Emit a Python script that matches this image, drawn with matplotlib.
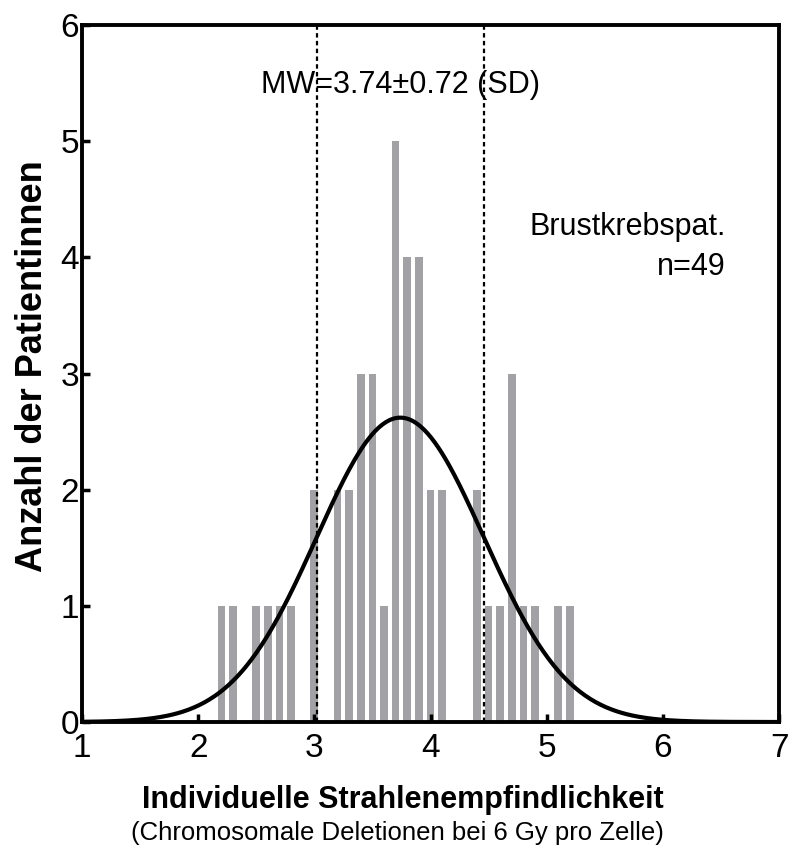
import numpy as np
import matplotlib
matplotlib.use('Agg')
import matplotlib.pyplot as plt

plt.rcParams['font.family'] = ['Liberation Sans', 'DejaVu Sans']

# Histogram data
deletions = [2.2, 2.3, 2.5, 2.6, 2.7, 2.8, 3.0, 3.2, 3.3, 3.4, 3.5, 3.6, 3.7, 3.8,
             3.9, 4.0, 4.1, 4.4, 4.5, 4.6, 4.7, 4.8, 4.9, 5.1, 5.2]
patients = [1, 1, 1, 1, 1, 1, 2, 2, 2, 3, 3, 1, 5, 4,
            4, 2, 2, 2, 1, 1, 3, 1, 1, 1, 1]

mean_val = 3.74
sd_val = 0.72
curve_peak = 2.62
x_ticks = [1, 2, 3, 4, 5, 6, 7]
y_ticks = [0, 1, 2, 3, 4, 5, 6]

fig = plt.figure(figsize=(7.88, 8.52), dpi=100)
ax = fig.add_axes([82 / 788, 1 - 722 / 852, 697 / 788, 697 / 852])

ax.bar(deletions, patients, width=0.066, color='#a2a2a6', zorder=1)

# fitted normal curve
xs = np.linspace(1, 7, 400)
ys = curve_peak * np.exp(-0.5 * ((xs - mean_val) / sd_val) ** 2)
ax.plot(xs, ys, color='black', linewidth=3, zorder=3)

# mean +/- SD lines
for xv in (mean_val - sd_val, mean_val + sd_val):
    ax.axvline(xv, color='black', linestyle=(0, (2, 1.5)), linewidth=1.6, zorder=2)

ax.text(mean_val, 5.48, 'MW=3.74\u00b10.72 (SD)', ha='center', va='center', fontsize=22)
ax.text(6.54, 4.26, 'Brustkrebspat.', ha='right', va='center', fontsize=22)
ax.text(6.54, 3.92, 'n=49', ha='right', va='center', fontsize=22)

ax.set_xlim(1, 7)
ax.set_ylim(0, 6)
ax.set_xticks(x_ticks)
ax.set_yticks(y_ticks)
ax.tick_params(direction='in', length=6, width=2.5, labelsize=24)
ax.tick_params(axis='x', pad=8)
ax.tick_params(axis='y', pad=2)
for s in ax.spines.values():
    s.set_linewidth(2.8)

ax.set_ylabel('Anzahl der Patientinnen', fontsize=26, fontweight='bold')
ax.yaxis.set_label_coords(-0.046, 0.51)
fig.text(403 / 788, 1 - 800 / 852, 'Individuelle Strahlenempfindlichkeit',
         ha='center', va='center', fontsize=22, fontweight='bold')
fig.text(397 / 788, 1 - 833 / 852, '(Chromosomale Deletionen bei 6 Gy pro Zelle)',
         ha='center', va='center', fontsize=18.5)

fig.savefig('out.png', dpi=100)
